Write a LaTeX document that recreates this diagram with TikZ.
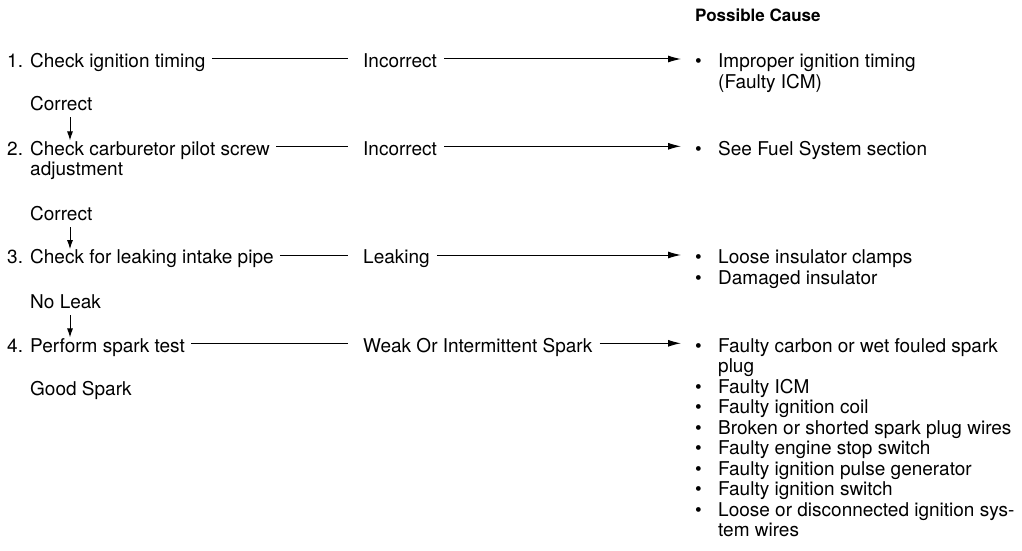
\documentclass[tikz,border=0pt]{standalone}
\usepackage{fontspec}
\setmainfont{TeX Gyre Heros}
\usetikzlibrary{arrows.meta}

\begin{document}
\begin{tikzpicture}[
  x=1pt, y=-1pt,
  ignlbl/.style = {inner sep=0pt, anchor=base west, font=\fontsize{19}{20.5}\selectfont},
  ignhead/.style = {inner sep=0pt, anchor=base west, font=\fontsize{17}{20}\selectfont\bfseries},
  ignlink/.style = {line width=1pt},
  ignarrow/.style = {line width=1pt, -{Latex[length=13pt,width=7pt]}},
  ignflow/.style = {line width=1pt, -{Latex[length=9pt,width=6pt]}}
]
  \useasboundingbox (0,0) rectangle (1022,551);
  % kop
  \node[ignhead] (head) at (695,22) {Possible Cause};
  % stappen
  \node[ignlbl] (s1) at (7,67.7) {\begin{tabular}[t]{@{}p{23pt}@{}l@{}}1. & Check ignition timing\end{tabular}};
  \node[ignlbl] (s2) at (7,155) {\begin{tabular}[t]{@{}p{23pt}@{}l@{}}2. & Check carburetor pilot screw\\ & adjustment\end{tabular}};
  \node[ignlbl] (s3) at (7,263.7) {\begin{tabular}[t]{@{}p{23pt}@{}l@{}}3. & Check for leaking intake pipe\end{tabular}};
  \node[ignlbl] (s4) at (7,352) {\begin{tabular}[t]{@{}p{23pt}@{}l@{}}4. & Perform spark test\end{tabular}};
  % uitkomst onder
  \node[ignlbl] (b1) at (30,110) {Correct};
  \node[ignlbl] (b2) at (30,220) {Correct};
  \node[ignlbl] (b3) at (30,308) {No Leak};
  \node[ignlbl] (b4) at (30,395) {Good Spark};
  % uitkomst rechts
  \node[ignlbl] (o1) at (363,67.7) {Incorrect};
  \node[ignlbl] (o2) at (363,155) {Incorrect};
  \node[ignlbl] (o3) at (363,263.7) {Leaking};
  \node[ignlbl] (o4) at (363,352) {Weak Or Intermittent Spark};
  % oorzaken
  \node[ignlbl] (c1) at (695,67.7) {\begin{tabular}[t]{@{}p{23pt}@{}l@{}}
    \textbullet & Improper ignition timing\\ & (Faulty ICM)\end{tabular}};
  \node[ignlbl] (c2) at (695,155) {\begin{tabular}[t]{@{}p{23pt}@{}l@{}}
    \textbullet & See Fuel System section\end{tabular}};
  \node[ignlbl] (c3) at (695,263.7) {\begin{tabular}[t]{@{}p{23pt}@{}l@{}}
    \textbullet & Loose insulator clamps\\
    \textbullet & Damaged insulator\end{tabular}};
  \node[ignlbl] (c4) at (695,352) {\begin{tabular}[t]{@{}p{23pt}@{}l@{}}
    \textbullet & Faulty carbon or wet fouled spark\\ & plug\\
    \textbullet & Faulty ICM\\
    \textbullet & Faulty ignition coil\\
    \textbullet & Broken or shorted spark plug wires\\
    \textbullet & Faulty engine stop switch\\
    \textbullet & Faulty ignition pulse generator\\
    \textbullet & Faulty ignition switch\\
    \textbullet & Loose or disconnected ignition sys-\\ & tem wires\end{tabular}};
  % lijnen naar rechts
  \foreach \i in {1,...,4} {
    \draw[ignlink] ([xshift=6pt,yshift=8.7pt]s\i.base east) -- ([xshift=-15pt,yshift=8.7pt]o\i.base west);
    \draw[ignarrow] ([xshift=7pt,yshift=8.7pt]o\i.base east) -- ([xshift=-14pt,yshift=8.7pt]c\i.base west);
  }
  % pijlen omlaag
  \draw[ignflow] ([xshift=40pt,yshift=-7pt]b1.base west) -- ([xshift=40pt]b1.base west |- s2.north);
  \draw[ignflow] ([xshift=40pt,yshift=-7pt]b2.base west) -- ([xshift=40pt]b2.base west |- s3.north);
  \draw[ignflow] ([xshift=40pt,yshift=-7pt]b3.base west) -- ([xshift=40pt]b3.base west |- s4.north);
\end{tikzpicture}
\end{document}
